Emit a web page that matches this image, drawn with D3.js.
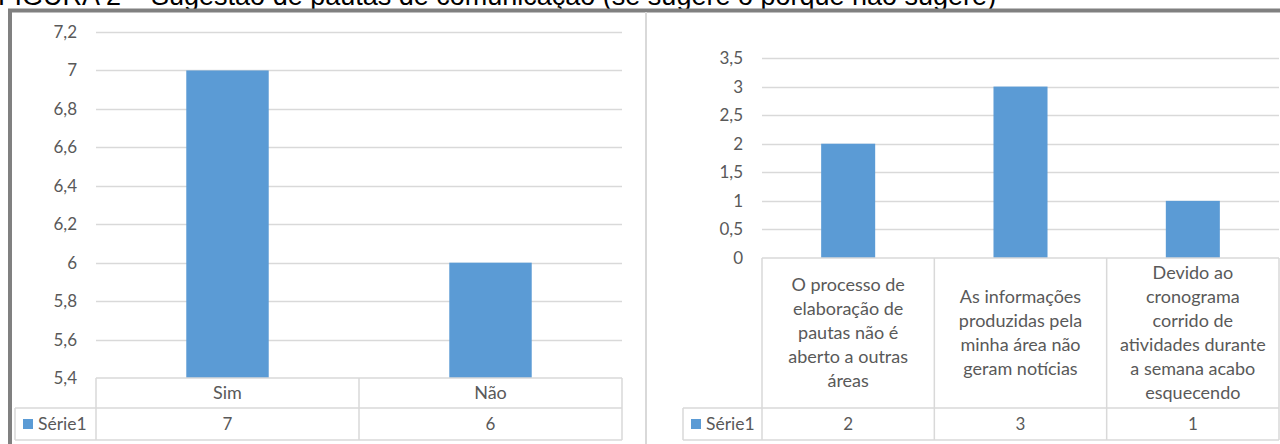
<!DOCTYPE html>
<html>
<head>
<meta charset="utf-8">
<script src="https://cdn.jsdelivr.net/npm/d3@7"></script>
<style>
  body { margin: 0; background: #fff; }
  text { font-family: Lato, "Open Sans", sans-serif; fill: #595959; }
</style>
</head>
<body>
<svg id="chart" width="1280" height="444"></svg>
<script>
// data
const title = "FIGURA 2 – Sugestão de pautas de comunicação (se sugere o porquê não sugere)";
const seriesName = "Série1";

const leftCats = ["Sim", "Não"];
const leftVals = [7, 6];
const leftTicks = [5.4, 5.6, 5.8, 6, 6.2, 6.4, 6.6, 6.8, 7, 7.2];

const rightCats = [
  ["O processo de", "elaboração de", "pautas não é", "aberto a outras", "áreas"],
  ["As informações", "produzidas pela", "minha área não", "geram notícias"],
  ["Devido ao", "cronograma", "corrido de", "atividades durante", "a semana acabo", "esquecendo"]
];
const rightVals = [2, 3, 1];
const rightTicks = [0, 0.5, 1, 1.5, 2, 2.5, 3, 3.5];

const blue = "#5b9bd5";
const grid = "#d9d9d9";
const fmt = d3.formatLocale({decimal: ",", thousands: ".", grouping: [3], currency: ["", ""]}).format("~g");

const svg = d3.select("#chart");

// title, mostly cropped off the top
svg.append("text")
    .attr("x", -2).attr("y", 5)
    .style("font-family", "'Liberation Sans', Arial, sans-serif")
    .style("font-size", "27px")
    .style("fill", "#000")
    .text(title);

// frame
svg.append("line").attr("x1", 8).attr("x2", 1280).attr("y1", 10.5).attr("y2", 10.5)
    .attr("stroke", "#808080").attr("stroke-width", 4);
svg.append("line").attr("x1", 10).attr("x2", 10).attr("y1", 9).attr("y2", 444)
    .attr("stroke", "#808080").attr("stroke-width", 4);
svg.append("line").attr("x1", 646).attr("x2", 646).attr("y1", 12).attr("y2", 444)
    .attr("stroke", grid).attr("stroke-width", 2);

function drawPanel(cfg) {
  const g = svg.append("g");
  const x = d3.scaleBand().domain(d3.range(cfg.vals.length)).range([cfg.x0, cfg.x1]);
  const y = d3.scaleLinear().domain(cfg.domain).range([cfg.yBottom, cfg.yTop]);
  const bw = x.bandwidth() / 3.19;

  // gridlines
  g.selectAll(".grid").data(cfg.ticks.slice(1)).join("line")
      .attr("x1", cfg.x0).attr("x2", cfg.x1)
      .attr("y1", d => Math.round(y(d)) + 0.5).attr("y2", d => Math.round(y(d)) + 0.5)
      .attr("stroke", grid).attr("stroke-width", 1.5);

  // y labels
  const yAxis = d3.axisLeft(y).tickValues(cfg.ticks).tickFormat(fmt).tickSize(0).tickPadding(0);
  const ax = g.append("g").attr("transform", `translate(${cfg.labelX},0)`).call(yAxis);
  ax.select(".domain").remove();
  ax.selectAll("text").style("font-size", "17px").style("fill", "#595959")
      .style("font-family", "Lato, sans-serif");

  // bars
  g.selectAll(".bar").data(cfg.vals).join("rect")
      .attr("x", (d, i) => x(i) + (x.bandwidth() - bw) / 2)
      .attr("width", bw)
      .attr("y", d => y(d))
      .attr("height", d => y(cfg.domain[0]) - y(d))
      .attr("fill", blue);

  // data table
  const t = g.append("g").attr("stroke", grid).attr("stroke-width", 1.5).attr("fill", "none");
  const r1 = cfg.yBottom, r2 = cfg.rowSplit, r3 = cfg.rowEnd;
  t.append("line").attr("x1", cfg.x0).attr("x2", cfg.x1).attr("y1", r1).attr("y2", r1);
  t.append("line").attr("x1", cfg.legendX).attr("x2", cfg.x1).attr("y1", r2).attr("y2", r2);
  t.append("line").attr("x1", cfg.legendX).attr("x2", cfg.x1).attr("y1", r3).attr("y2", r3);
  t.append("line").attr("x1", cfg.legendX).attr("x2", cfg.legendX).attr("y1", r2).attr("y2", r3);
  const edges = d3.range(cfg.vals.length).map(i => x(i)).concat([cfg.x1]);
  t.selectAll(".v").data(edges).join("line")
      .attr("x1", d => d).attr("x2", d => d).attr("y1", r1).attr("y2", r3);

  // category labels
  const mid = (r1 + r2) / 2;
  const lh = 24;
  g.selectAll(".cat").data(cfg.cats).join("text")
      .attr("text-anchor", "middle")
      .style("font-size", "18px")
      .each(function(d, i) {
        const lines = Array.isArray(d) ? d : [d];
        const y0 = mid - (lines.length - 1) * lh / 2;
        d3.select(this).selectAll("tspan").data(lines).join("tspan")
            .attr("x", x(i) + x.bandwidth() / 2)
            .attr("y", (l, j) => y0 + j * lh)
            .attr("dy", "0.35em")
            .text(l => l);
      });

  // values row
  g.selectAll(".val").data(cfg.vals).join("text")
      .attr("x", (d, i) => x(i) + x.bandwidth() / 2)
      .attr("y", (r2 + r3) / 2).attr("dy", "0.35em")
      .attr("text-anchor", "middle")
      .style("font-size", "17px")
      .text(d => fmt(d));

  // legend key
  g.append("rect").attr("x", cfg.legendX + 8).attr("y", (r2 + r3) / 2 - 5)
      .attr("width", 10).attr("height", 10).attr("fill", blue);
  g.append("text").attr("x", cfg.legendX + 23).attr("y", (r2 + r3) / 2).attr("dy", "0.35em")
      .style("font-size", "17.5px").text(seriesName);
}

drawPanel({
  cats: leftCats, vals: leftVals, ticks: leftTicks, domain: [5.4, 7.2],
  x0: 96, x1: 622, yTop: 32, yBottom: 378, labelX: 77,
  rowSplit: 408, rowEnd: 440, legendX: 15
});

drawPanel({
  cats: rightCats, vals: rightVals, ticks: rightTicks, domain: [0, 3.5],
  x0: 762, x1: 1279, yTop: 58, yBottom: 258, labelX: 743,
  rowSplit: 408, rowEnd: 440, legendX: 683
});
</script>
</body>
</html>
